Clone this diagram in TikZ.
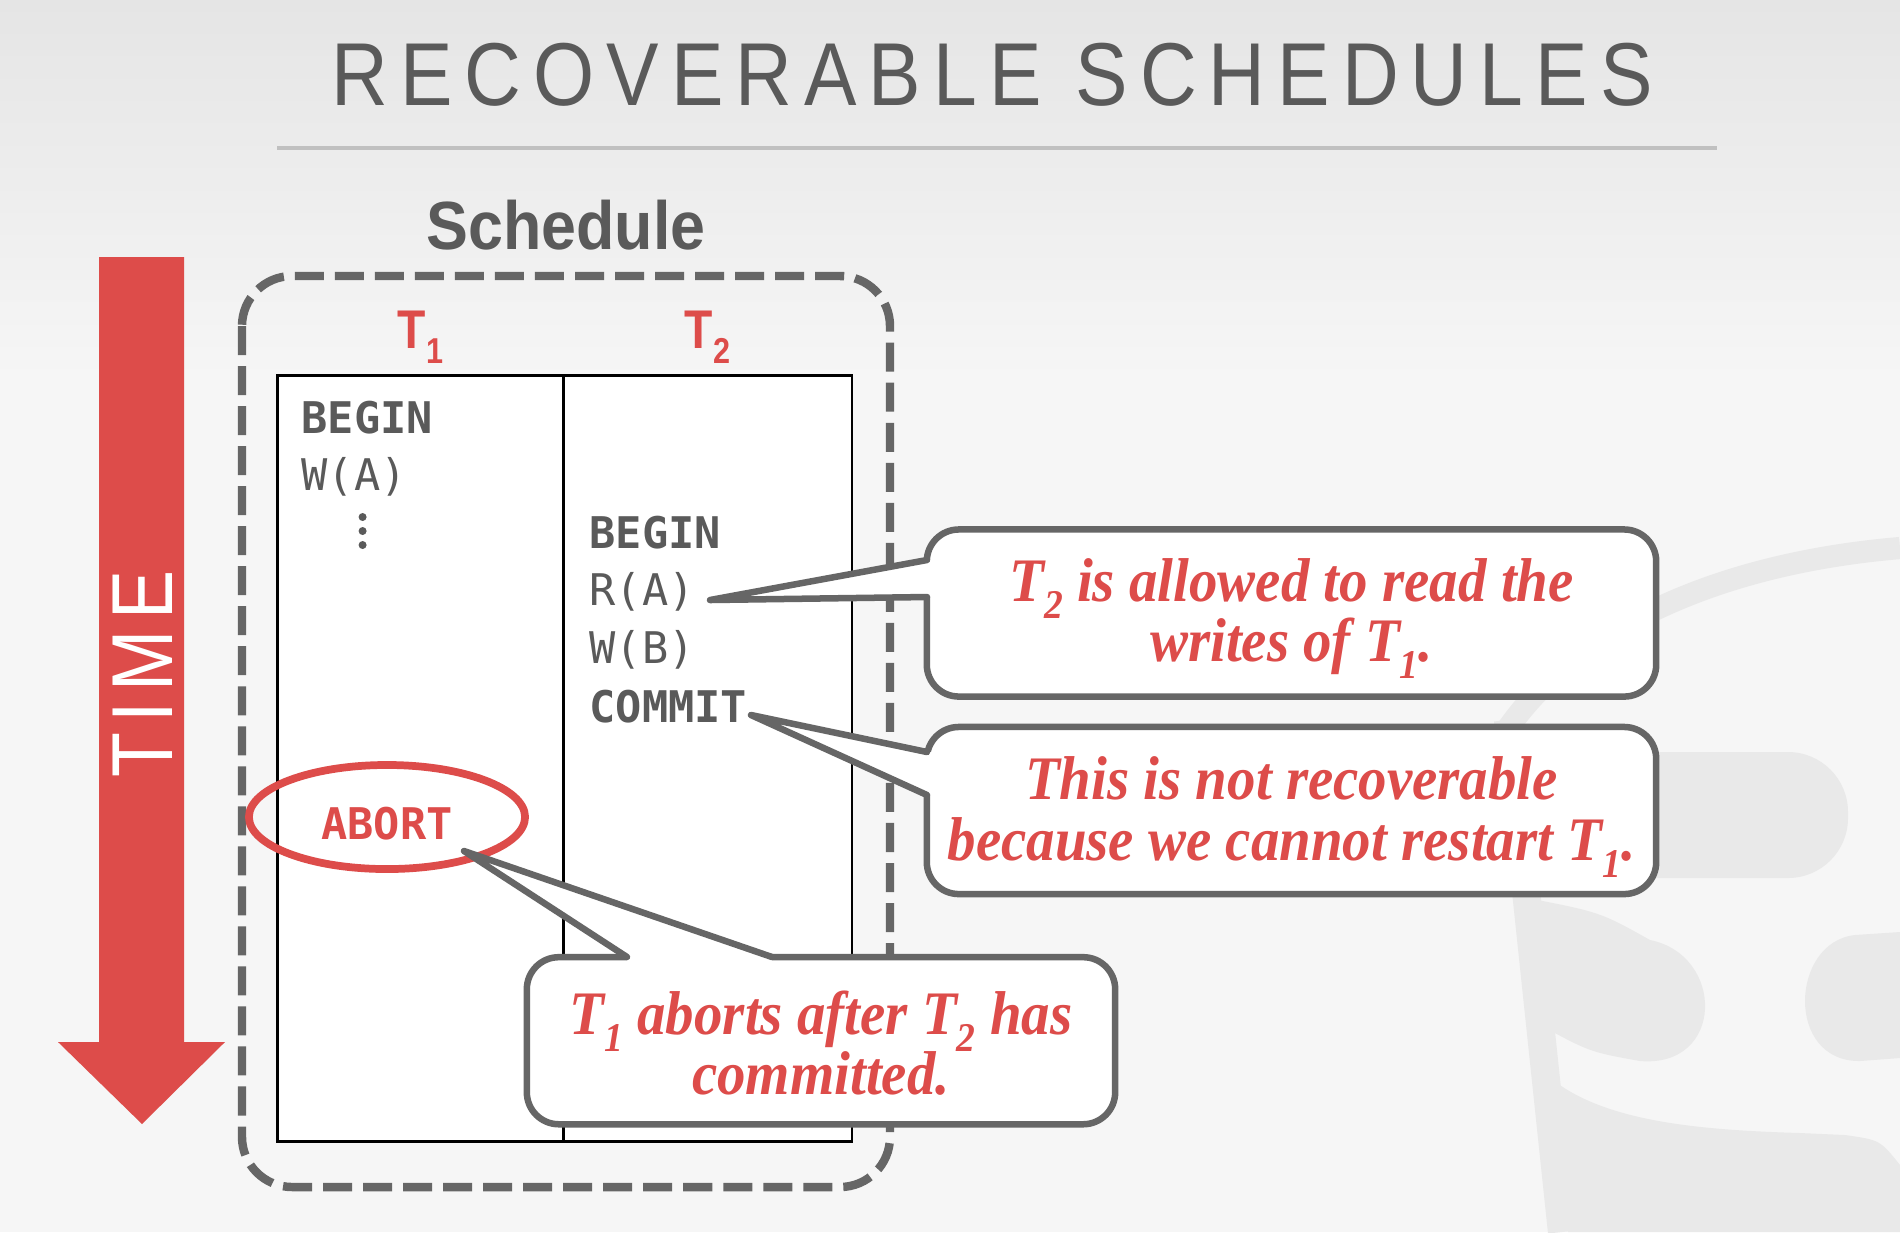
\documentclass[tikz,border=0pt]{standalone}
\usepackage{fontspec}
\usetikzlibrary{shapes.geometric}
\setmainfont{Liberation Serif}
\newfontfamily\titlefont[FakeStretch=0.88,LetterSpace=13.5]{Liberation Sans}
\newfontfamily\headfont[FakeStretch=0.92]{Liberation Sans}
\newfontfamily\labelfont[FakeStretch=0.85]{Liberation Sans}
\newfontfamily\timefont[FakeStretch=0.85,LetterSpace=12]{Liberation Sans}
\newfontfamily\opfont{DejaVu Sans Mono}
\newfontfamily\notefont[FakeStretch=0.92]{Liberation Serif}
\definecolor{slidered}{RGB}{221,76,74}
\definecolor{inkgray}{RGB}{90,90,90}
\definecolor{framegray}{RGB}{102,102,102}
\definecolor{rulegray}{RGB}{192,192,192}
\definecolor{paper}{RGB}{246,246,246}
\definecolor{papertop}{RGB}{229,229,229}
\definecolor{logogray}{RGB}{233,233,233}
\newcommand{\lowidx}[1]{\raisebox{-0.27em}{\scalebox{0.66}{#1}}}
\begin{document}
\begin{tikzpicture}[x=0.01cm,y=-0.01cm,
	optext/.style={font=\opfont\fontsize{12.4}{14}\selectfont, text=inkgray, inner sep=0pt, anchor=base west},
	txhead/.style={font=\labelfont\bfseries\fontsize{15.5}{18}\selectfont, text=slidered, inner sep=0pt, anchor=base},
	column/.style={draw=black, line width=0.7pt, fill=white, minimum height=7.658cm, inner sep=0pt},
	notebox/.style={draw=framegray, line width=1.85pt, fill=white, rounded corners=0.32cm, minimum height=1.67cm, inner sep=0pt},
	notetext/.style={align=center, text=slidered, inner sep=0pt, font=\notefont\bfseries\itshape\fontsize{17.6}{17.2}\selectfont},
	notetail/.style={draw=framegray, line width=1.85pt, line join=round, line cap=round},
	logoshape/.style={fill=logogray, draw=none}]
		
		\fill[paper] (0,0) rectangle (1900,1232);
		\shade[top color=papertop, bottom color=paper] (0,0) rectangle (1900,380);
		\useasboundingbox (0,0) rectangle (1900,1232);
		
		% faint logo in the background
		\draw[logogray, line width=6.3pt] (1497,745) .. controls (1560,640) and (1700,565) .. (1900,548);
		\draw[logogray, line width=8pt] (1508,720) -- (1562,1232);
		\fill[logoshape, rounded corners=0.6cm] (1540,752) rectangle (1848,878);
		\fill[logoshape] (1522,897) .. controls (1600,912) .. (1650,940) .. controls (1725,955) and (1725,1068) .. (1640,1061) .. controls (1590,1052) .. (1540,1025) -- cycle;
		\fill[logoshape] (1900,932) -- (1855,935) .. controls (1790,942) and (1785,1062) .. (1860,1061) -- (1900,1058) -- cycle;
		\fill[logoshape] (1547,1075) .. controls (1600,1122) and (1700,1130) .. (1800,1133) -- (1845,1135) .. controls (1880,1140) .. (1900,1165) -- (1900,1232) -- (1568,1232) -- cycle;
		
		\node[font=\titlefont\fontsize{25.4}{30}\selectfont, text=inkgray, inner sep=0pt, anchor=base] (title) at (992,105) {RECOVERABLE SCHEDULES};
		\draw[rulegray, line width=1.15pt] (277,148) -- (1717,148);
		
		% time arrow
		\fill[slidered] (99,257) -- (184,257) -- (184,1042) -- (225,1042) -- (142,1124) -- (58,1042) -- (99,1042) -- cycle;
		\node[rotate=90, font=\timefont\fontsize{24.6}{28}\selectfont, text=white, inner sep=0pt] (timelabel) at (143,674) {TIME};
		
		\node[font=\headfont\bfseries\fontsize{19.4}{22}\selectfont, text=inkgray, inner sep=0pt, anchor=base] (schedhead) at (566,249) {Schedule};
		\draw[framegray, line width=2.4pt, dash pattern=on 0.29cm off 0.11cm, rounded corners=0.5cm] (242,276) rectangle (890,1187);
		
		\node[column, minimum width=2.859cm] (col1) at (420.45,758.5) {};
		\node[column, minimum width=2.884cm] (col2) at (707.6,758.5) {};
		\node[txhead] (t1head) at ([yshift=0.256cm]col1.north) {T\lowidx{1}};
		\node[txhead] (t2head) at ([yshift=0.256cm]col2.north) {T\lowidx{2}};
		
		\node[optext] (l1begin) at (301,433) {\bfseries BEGIN};
		\node[optext] (l1write) at (301,490) {W(A)};
		\fill[inkgray] (362.6,517) circle (4) (362.6,531) circle (4) (362.6,545) circle (4);
		\node[optext] (r2begin) at (589,548) {\bfseries BEGIN};
		\node[optext] (r2read) at (589,605) {R(A)};
		\node[optext] (r2write) at (589,663) {W(B)};
		\node[optext] (r2commit) at (589,722) {\bfseries COMMIT};
		
		\node[ellipse, draw=slidered, line width=2.2pt, minimum width=2.76cm, minimum height=1.04cm, inner sep=0pt] (abortring) at (387,817) {};
		\node[font=\opfont\bfseries\fontsize{12.4}{14}\selectfont, text=slidered, inner sep=0pt, anchor=base] (abortword) at (387,839) {ABORT};
		
		% callouts
		\node[notebox, minimum width=7.29cm] (note1) at (1291.5,613) {};
		\node[notebox, minimum width=7.29cm] (note2) at (1291.5,810.5) {};
		\node[notebox, minimum width=5.88cm] (note3) at (821,1040.7) {};
		\node[notetext] (note1text) at ([yshift=-0.055cm]note1.center) {T\lowidx{2} is allowed to read the\\writes of T\lowidx{1}.};
		\node[notetext] (note2text) at ([yshift=-0.065cm]note2.center) {This is not recoverable\\because we cannot restart T\lowidx{1}.};
		\node[notetext] (note3text) at ([yshift=-0.025cm]note3.center) {T\lowidx{1} aborts after T\lowidx{2} has\\committed.};
		
		\coordinate (n1a) at (927,560);
		\coordinate (n1b) at (927,597);
		\coordinate (n1tip) at (710,600);
		\coordinate (n2a) at (927,752);
		\coordinate (n2b) at (927,795);
		\coordinate (n2tip) at (751,715);
		\coordinate (n3a) at (627,957);
		\coordinate (n3b) at (772,957);
		\coordinate (n3tip) at (464,851);
		
		\fill[white] (n1a) -- (n1tip) -- (n1b) -- ([xshift=0.1cm]n1b) -- ([xshift=0.1cm]n1a) -- cycle;
		\draw[notetail] (n1a) -- (n1tip) -- (n1b);
		\fill[white] (n2a) -- (n2tip) -- (n2b) -- ([xshift=0.1cm]n2b) -- ([xshift=0.1cm]n2a) -- cycle;
		\draw[notetail] (n2a) -- (n2tip) -- (n2b);
		\fill[white] (n3a) -- (n3tip) -- (n3b) -- ([yshift=-0.1cm]n3b) -- ([yshift=-0.1cm]n3a) -- cycle;
		\draw[notetail] (n3a) -- (n3tip) -- (n3b);
		
	\end{tikzpicture}
\end{document}
